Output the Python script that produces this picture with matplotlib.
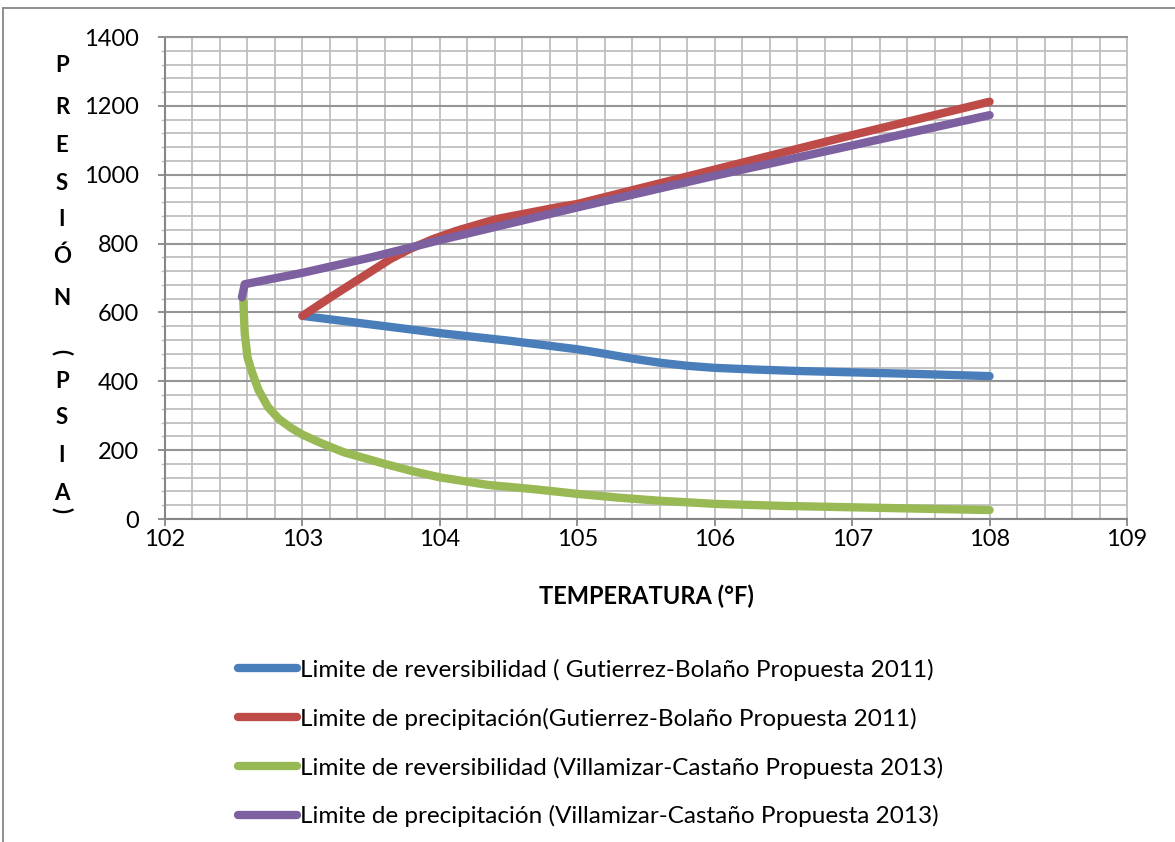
import matplotlib
matplotlib.use("Agg")
import matplotlib.pyplot as plt
from matplotlib.ticker import MultipleLocator
from matplotlib.lines import Line2D

plt.rcParams['font.family'] = ['Lato', 'DejaVu Sans']

# ---- data ----
blue_x = [103, 103.5, 104, 104.5, 105, 105.2, 105.4, 105.6, 105.8, 106, 106.3, 106.6, 107, 107.5, 108]
blue_y = [590, 565, 540, 518, 493, 480, 466, 454, 445, 439, 434, 430, 426, 421, 415]

red_x = [103, 103.22, 103.64, 103.78, 103.95, 104.12, 104.41, 104.85, 105, 106, 107, 108]
red_y = [590, 648, 755, 784, 813, 837, 871, 905, 915, 1015, 1115, 1212]

green_x = [102.57, 102.58, 102.6, 102.63, 102.68, 102.75, 102.83, 102.92, 103, 103.15, 103.3,
           103.6, 103.8, 104, 104.35, 104.7, 105, 105.3, 105.6, 106, 106.5, 107, 107.5, 108]
green_y = [632, 540, 470, 430, 375, 325, 290, 264, 245, 218, 194,
           160, 139, 121, 99, 86, 73, 62, 53, 44, 38, 34, 30, 26]

purple_x = [102.56, 102.58, 103, 103.5, 104, 105, 106, 107, 108]
purple_y = [644, 682, 715, 760, 810, 905, 997, 1085, 1173]

labels = [
    "Limite de reversibilidad ( Gutierrez-Bolaño Propuesta 2011)",
    "Limite de precipitación(Gutierrez-Bolaño Propuesta 2011)",
    "Limite de reversibilidad (Villamizar-Castaño Propuesta 2013)",
    "Limite de precipitación (Villamizar-Castaño Propuesta 2013)",
]
colors = ["#4A7EBB", "#BE4B48", "#98B954", "#7D60A0"]

x_label = "TEMPERATURA (°F)"
y_chars = ["P", "R", "E", "S", "I", "Ó", "N", "(", "P", "S", "I", "A", ")"]
y_char_pos = [66, 108, 146, 183, 220, 256, 298, 352, 381, 418, 455, 494, 510]

W, H = 1175, 842
fig = plt.figure(figsize=(W / 100, H / 100), dpi=100)
ax = fig.add_axes([165 / W, 1 - 519 / H, 962 / W, 482 / H])

ax.set_xlim(102, 109)
ax.set_ylim(0, 1400)
ax.xaxis.set_major_locator(MultipleLocator(1))
ax.xaxis.set_minor_locator(MultipleLocator(0.2))
ax.yaxis.set_major_locator(MultipleLocator(200))
ax.yaxis.set_minor_locator(MultipleLocator(40))

ax.grid(True, axis='x', which='both', color='#BFBFBF', lw=1.3)
ax.grid(True, axis='y', which='minor', color='#BFBFBF', lw=1.3)
ax.grid(True, axis='y', which='major', color='#959595', lw=1.5)
ax.set_axisbelow(True)

ax.spines['top'].set_color('#959595')
ax.spines['top'].set_linewidth(1.5)
ax.spines['right'].set_color('#BFBFBF')
ax.spines['right'].set_linewidth(1.3)
for s in ['left', 'bottom']:
    ax.spines[s].set_color('#868686')
    ax.spines[s].set_linewidth(1.5)

ax.tick_params(axis='both', which='major', length=5, width=1.3, color='#868686',
               labelsize=17, labelcolor='black')
ax.tick_params(axis='y', which='major', pad=14)
ax.tick_params(axis='x', which='major', pad=2)
ax.tick_params(axis='x', which='minor', length=0)
ax.tick_params(axis='y', which='minor', length=3, width=1.0, color='#BFBFBF')

series = [(blue_x, blue_y), (red_x, red_y), (green_x, green_y), (purple_x, purple_y)]
handles = []
for (xs, ys), c, lab in zip(series, colors, labels):
    h, = ax.plot(xs, ys, color=c, lw=6, solid_capstyle='round',
                 solid_joinstyle='round', label=lab)
    handles.append(h)

ax.set_xlabel(x_label, fontsize=17, fontweight='bold', labelpad=25)

for ch, yp in zip(y_chars, y_char_pos):
    rot = -90 if ch in "()" else 0
    fig.text(62 / W, 1 - yp / H, ch, ha='center', va='center', fontsize=16,
             fontweight='bold', rotation=rot)

leg = fig.legend(handles=handles, labels=labels, loc='upper left',
                 bbox_to_anchor=(216 / W, 1 - 637 / H), frameon=False,
                 fontsize=17.5, handlelength=2.45, handletextpad=0.12,
                 labelspacing=1.1)

# outer border of chart area
fig.add_artist(Line2D([3 / W, 3 / W], [0, 1 - 8 / H], color='#868686', lw=1.3))
fig.add_artist(Line2D([3 / W, 1], [1 - 8 / H, 1 - 8 / H], color='#868686', lw=1.3))

fig.savefig("out.png", dpi=100)
